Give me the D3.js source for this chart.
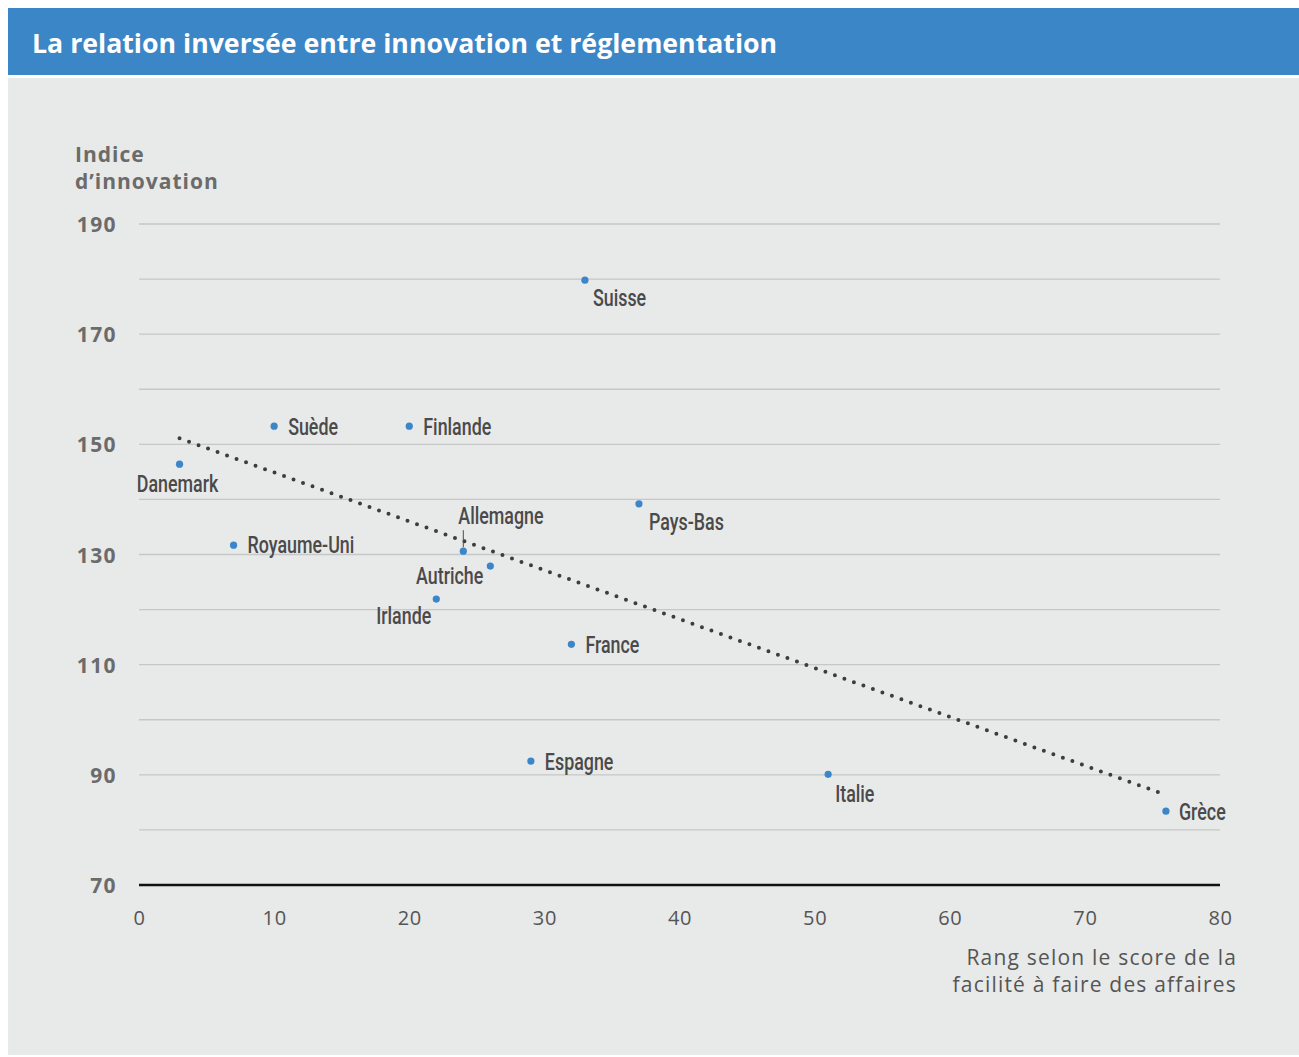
<!DOCTYPE html>
<html lang="fr">
<head>
<meta charset="utf-8">
<script src="https://cdn.jsdelivr.net/npm/d3@7"></script>
<style>
  html, body { margin: 0; padding: 0; background: #ffffff; }
  svg { display: block; }
  .title { font-family: "Open Sans", "DejaVu Sans", sans-serif; font-weight: 700; fill: #ffffff; }
  .axis-title-y { font-family: "Open Sans", "DejaVu Sans", sans-serif; font-weight: 700; fill: #6b6b6b; letter-spacing: 1px; }
  .axis-title-x { font-family: "Open Sans", "DejaVu Sans", sans-serif; font-weight: 400; fill: #555555; letter-spacing: 1.2px; }
  .ytick text { font-family: "Open Sans", "DejaVu Sans", sans-serif; font-weight: 700; fill: #6b6b6b; letter-spacing: 1.4px; }
  .xtick text { font-family: "Open Sans", "DejaVu Sans", sans-serif; font-weight: 400; fill: #555555; letter-spacing: 0.6px; }
  .country { font-family: "Roboto", "DejaVu Sans", sans-serif; font-weight: 500; fill: #4a4a4a; }
</style>
</head>
<body>
<script>
// Pays, rang « facilité à faire des affaires » et indice d'innovation
const countries = ["Danemark", "Suède", "Finlande", "Royaume-Uni", "Allemagne", "Autriche",
                   "Irlande", "Suisse", "Pays-Bas", "France", "Espagne", "Italie", "Grèce"];
const businessRank = [3, 10, 20, 7, 24, 26, 22, 33, 37, 32, 29, 51, 76];
const innovationIndex = [146.4, 153.3, 153.3, 131.7, 130.6, 127.9, 121.9, 179.8, 139.2, 113.7, 92.5, 90.1, 83.4];

// Droite de tendance (extrémités)
const trendRank = [3, 75.6];
const trendIndex = [151.1, 86.7];

// Graduations
const xTicks = [0, 10, 20, 30, 40, 50, 60, 70, 80];
const yLabelTicks = [70, 90, 110, 130, 150, 170, 190];
const yGridTicks = [80, 90, 100, 110, 120, 130, 140, 150, 160, 170, 180, 190];

const chartTitle = "La relation inversée entre innovation et réglementation";
const yTitle = ["Indice", "d’innovation"];
const xTitle = ["Rang selon le score de la", "facilité à faire des affaires"];

// Placement des étiquettes autour des points : [dx, dy, ancrage]
const labelPlacement = {
  "Danemark":    [-2, 28, "middle"],
  "Suède":       [14, 9, "start"],
  "Finlande":    [14, 9, "start"],
  "Royaume-Uni": [14, 8, "start"],
  "Allemagne":   [-5, -27, "start"],
  "Autriche":    [-7, 18, "end"],
  "Irlande":     [-5, 25, "end"],
  "Suisse":      [8, 26, "start"],
  "Pays-Bas":    [10, 26, "start"],
  "France":      [14, 9, "start"],
  "Espagne":     [14, 9, "start"],
  "Italie":      [7, 28, "start"],
  "Grèce":       [13, 9, "start"]
};

const W = 1299, H = 1057;
const svg = d3.select("body").append("svg").attr("width", W).attr("height", H);

// Bandeau de titre et fond du graphique
svg.append("rect").attr("x", 8).attr("y", 8).attr("width", W - 8).attr("height", 67).attr("fill", "#3b86c6");
svg.append("rect").attr("x", 8).attr("y", 78).attr("width", W - 8).attr("height", 977).attr("fill", "#e8e9e9");
svg.append("text").attr("class", "title").attr("x", 32).attr("y", 53)
  .style("font-size", "26.7px").text(chartTitle);

const x = d3.scaleLinear().domain([0, 80]).range([139, 1220]);
const y = d3.scaleLinear().domain([70, 190]).range([885, 224]);

// Quadrillage horizontal
svg.append("g").selectAll("line").data(yGridTicks).join("line")
  .attr("x1", x(0)).attr("x2", x(80))
  .attr("y1", d => y(d)).attr("y2", d => y(d))
  .attr("stroke", "#c6c7c7").attr("stroke-width", 1.3);

// Axe horizontal (ligne de base à 70)
svg.append("line").attr("x1", x(0)).attr("x2", x(80)).attr("y1", y(70)).attr("y2", y(70))
  .attr("stroke", "#111111").attr("stroke-width", 2.6);

// Libellés de l'axe vertical
const yAxis = d3.axisLeft(y).tickValues(yLabelTicks).tickSize(0).tickPadding(0).tickFormat(d3.format("d"));
const gy = svg.append("g").attr("class", "ytick").attr("transform", `translate(${117},0)`).call(yAxis);
gy.select(".domain").remove();
gy.selectAll("text").style("font-size", "21px").attr("dy", "0.36em");

// Libellés de l'axe horizontal
const xAxis = d3.axisBottom(x).tickValues(xTicks).tickSize(0).tickPadding(0).tickFormat(d3.format("d"));
const gx = svg.append("g").attr("class", "xtick").attr("transform", `translate(0,${911})`).call(xAxis);
gx.select(".domain").remove();
gx.selectAll("text").style("font-size", "20px").attr("dy", "0.71em");

// Titres des axes
svg.append("text").attr("class", "axis-title-y").style("font-size", "21px")
  .selectAll("tspan").data(yTitle).join("tspan")
  .attr("x", 75).attr("y", (d, i) => 162 + i * 27).text(d => d);
svg.append("text").attr("class", "axis-title-x").style("font-size", "21px").attr("text-anchor", "end")
  .selectAll("tspan").data(xTitle).join("tspan")
  .attr("x", 1237).attr("y", (d, i) => 965 + i * 27).text(d => d);

// Droite de tendance en pointillés
const trend = trendRank.map((r, i) => [r, trendIndex[i]]);
svg.append("path").datum(trend)
  .attr("d", d3.line().x(d => x(d[0])).y(d => y(d[1])))
  .attr("fill", "none").attr("stroke", "#3d3d3d").attr("stroke-width", 4)
  .attr("stroke-linecap", "round").attr("stroke-dasharray", "0 10.1");

// Points des pays
const pts = countries.map((c, i) => ({ name: c, rank: businessRank[i], index: innovationIndex[i] }));
svg.append("g").selectAll("circle").data(pts).join("circle")
  .attr("cx", d => x(d.rank)).attr("cy", d => y(d.index)).attr("r", 3.6)
  .attr("fill", "#3a86c8");

// Trait de rappel pour l'Allemagne
const de = pts.find(d => d.name === "Allemagne");
svg.append("line").attr("x1", x(de.rank)).attr("x2", x(de.rank))
  .attr("y1", y(de.index) - 21).attr("y2", y(de.index) - 4)
  .attr("stroke", "#4a4a4a").attr("stroke-width", 1);

// Étiquettes des pays (police étroite)
svg.append("g").selectAll("text").data(pts).join("text")
  .attr("class", "country")
  .attr("text-anchor", d => labelPlacement[d.name][2])
  .attr("transform", d => `translate(${x(d.rank) + labelPlacement[d.name][0]},${y(d.index) + labelPlacement[d.name][1]}) scale(0.76,1)`)
  .style("font-size", "23.5px")
  .text(d => d.name);
</script>
</body>
</html>
